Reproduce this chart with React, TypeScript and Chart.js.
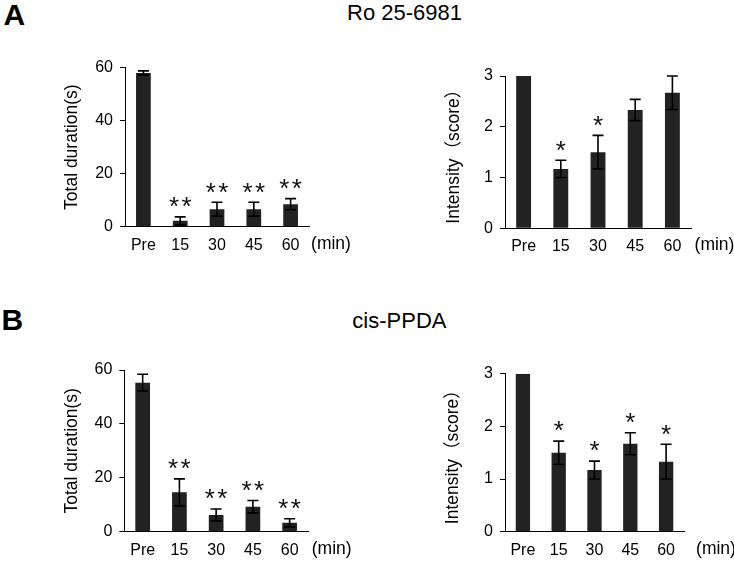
import React, { useEffect, useRef } from 'react';
import { Chart, registerables } from 'chart.js';

Chart.register(...registerables);

// ---------- data ----------
const categories = ['Pre', '15', '30', '45', '60'];

const roDuration = [58, 2.2, 6.6, 6.6, 8.5];
const roDurationErr = [0.8, 1.5, 2.6, 2.6, 2.1];
const roDurationSig = ['', '**', '**', '**', '**'];

const roIntensity = [3, 1.17, 1.5, 2.33, 2.67];
const roIntensityErr = [0, 0.17, 0.33, 0.21, 0.33];
const roIntensitySig = ['', '*', '*', '', ''];

const cisDuration = [55.3, 14.6, 6.2, 9.3, 3.3];
const cisDurationErr = [3.1, 5.0, 2.2, 2.3, 1.5];
const cisDurationSig = ['', '**', '**', '**', '**'];

const cisIntensity = [3, 1.5, 1.17, 1.67, 1.33];
const cisIntensityErr = [0, 0.22, 0.17, 0.21, 0.33];
const cisIntensitySig = ['', '*', '*', '*', '*'];

const durationTicks = [0, 20, 40, 60];
const intensityTicks = [0, 1, 2, 3];

const durationTitle = 'Total duration(s)';
const intensityTitle = 'Intensity（score）';
const unitLabel = '(min)';
const drugTitles = ['Ro 25-6981', 'cis-PPDA'];
const panelLetters = ['A', 'B'];

// ---------- layout / style ----------
const FAMILY = '"Liberation Sans", Arial, "Noto Sans CJK SC", sans-serif';
const BAR_COLOR = '#222222';
const STAR_SIZE = 26;

type PanelCfg = {
  cx: number; cy: number; cw: number; ch: number;
  area: { left: number; right: number; top: number; bottom: number };
  values: number[]; errs: number[]; sigs: string[];
  ticks: number[]; yTitle: string; titlePad: number; unitDx: number;
};

const PANELS: PanelCfg[] = [
  {
    cx: 0, cy: 30, cw: 367, ch: 235,
    area: { left: 125, right: 309, top: 37.7, bottom: 196.7 },
    values: roDuration, errs: roDurationErr, sigs: roDurationSig,
    ticks: durationTicks, yTitle: durationTitle, titlePad: 61.5, unitDx: 22,
  },
  {
    cx: 367, cy: 30, cw: 367, ch: 235,
    area: { left: 138, right: 324, top: 46, bottom: 198.3 },
    values: roIntensity, errs: roIntensityErr, sigs: roIntensitySig,
    ticks: intensityTicks, yTitle: intensityTitle, titlePad: 76.5, unitDx: 23.5,
  },
  {
    cx: 0, cy: 340, cw: 367, ch: 223,
    area: { left: 124.3, right: 308, top: 30, bottom: 191.7 },
    values: cisDuration, errs: cisDurationErr, sigs: cisDurationSig,
    ticks: durationTicks, yTitle: durationTitle, titlePad: 61.2, unitDx: 23.7,
  },
  {
    cx: 367, cy: 340, cw: 367, ch: 223,
    area: { left: 138, right: 317, top: 33.7, bottom: 191.7 },
    values: cisIntensity, errs: cisIntensityErr, sigs: cisIntensitySig,
    ticks: intensityTicks, yTitle: intensityTitle, titlePad: 75.5, unitDx: 32,
  },
];

function Panel({ cfg }: { cfg: PanelCfg }) {
  const ref = useRef<HTMLCanvasElement | null>(null);
  useEffect(() => {
    if (!ref.current) return;
    const { area, values, errs, sigs } = cfg;
    const annot = {
      id: 'annot',
      afterDatasetsDraw(chart: any) {
        const ctx = chart.ctx;
        const meta = chart.getDatasetMeta(0);
        const ys = chart.scales.y;
        ctx.save();
        meta.data.forEach((bar: any, i: number) => {
          const v = values[i];
          const e = errs[i];
          const x = bar.x;
          const yTop = ys.getPixelForValue(v + e);
          const yBot = ys.getPixelForValue(v - e);
          if (e > 0) {
            ctx.strokeStyle = '#000';
            ctx.lineWidth = 1.6;
            ctx.beginPath();
            ctx.moveTo(x, yTop); ctx.lineTo(x, yBot);
            ctx.moveTo(x - 5.5, yTop); ctx.lineTo(x + 5.5, yTop);
            ctx.moveTo(x - 5.5, yBot); ctx.lineTo(x + 5.5, yBot);
            ctx.stroke();
          }
          const sig = sigs[i];
          if (sig) {
            ctx.fillStyle = '#111';
            ctx.font = STAR_SIZE + 'px ' + FAMILY;
            ctx.textAlign = 'center';
            ctx.textBaseline = 'alphabetic';
            const n = sig.length;
            const base = yTop - 16.5 + 0.57 * STAR_SIZE;
            for (let k = 0; k < n; k++) {
              ctx.fillText('*', x + (k - (n - 1) / 2) * 12.5, base);
            }
          }
        });
        ctx.fillStyle = '#000';
        ctx.font = '17.5px ' + FAMILY;
        ctx.textAlign = 'center';
        ctx.textBaseline = 'middle';
        ctx.fillText(unitLabel, chart.chartArea.right + cfg.unitDx, chart.chartArea.bottom + 17);
        ctx.restore();
      },
    };
    const chart = new Chart(ref.current, {
      type: 'bar',
      data: {
        labels: categories,
        datasets: [
          {
            data: values,
            backgroundColor: BAR_COLOR,
            borderWidth: 0,
            barPercentage: 0.4,
            categoryPercentage: 1,
          },
        ],
      },
      options: {
        responsive: false,
        animation: false,
        devicePixelRatio: 1,
        layout: { padding: { left: 0, top: area.top, right: cfg.cw - area.right, bottom: 0 } },
        plugins: { legend: { display: false }, tooltip: { enabled: false } },
        scales: {
          x: {
            offset: true,
            afterFit: (s: any) => { s.height = cfg.ch - area.bottom; },
            border: { display: true, color: '#000', width: 1 },
            grid: { display: false, drawTicks: false },
            ticks: { color: '#000', font: { size: 16, family: FAMILY }, padding: 9, maxRotation: 0, autoSkip: false },
          },
          y: {
            min: 0,
            max: cfg.ticks[cfg.ticks.length - 1],
            afterBuildTicks: (s: any) => { s.ticks = cfg.ticks.map((v) => ({ value: v })); },
            afterFit: (s: any) => { s.width = area.left; },
            border: { display: true, color: '#000', width: 1 },
            grid: { drawOnChartArea: false, drawTicks: true, tickLength: 5, color: '#000' },
            ticks: { color: '#000', font: { size: 16, family: FAMILY }, padding: 7 },
            title: {
              display: true,
              text: cfg.yTitle,
              color: '#000',
              font: { size: 17.5, family: FAMILY },
              padding: { top: cfg.titlePad, bottom: 0 },
            },
          },
        },
      },
      plugins: [annot],
    });
    return () => chart.destroy();
  }, [cfg]);
  return (
    <canvas
      ref={ref}
      width={cfg.cw}
      height={cfg.ch}
      style={{ position: 'absolute', left: cfg.cx, top: cfg.cy, width: cfg.cw, height: cfg.ch }}
    />
  );
}

export default function App() {
  const letterStyle: React.CSSProperties = {
    position: 'absolute',
    font: 'bold 30px ' + FAMILY,
    lineHeight: '30px',
    color: '#000',
  };
  const titleStyle: React.CSSProperties = {
    position: 'absolute',
    width: 200,
    textAlign: 'center',
    font: '22px ' + FAMILY,
    lineHeight: '22px',
    color: '#000',
  };
  return (
    <div style={{ position: 'absolute', left: 0, top: 0, width: 734, height: 563, background: '#fff', overflow: 'hidden' }}>
      <div style={{ ...letterStyle, left: 3.5, top: 0 }}>{panelLetters[0]}</div>
      <div style={{ ...letterStyle, left: 1.5, top: 304.6 }}>{panelLetters[1]}</div>
      <div style={{ ...titleStyle, left: 304.5, top: 2.1 }}>{drugTitles[0]}</div>
      <div style={{ ...titleStyle, left: 299.4, top: 309.7 }}>{drugTitles[1]}</div>
      {PANELS.map((p, i) => (
        <Panel key={i} cfg={p} />
      ))}
    </div>
  );
}
